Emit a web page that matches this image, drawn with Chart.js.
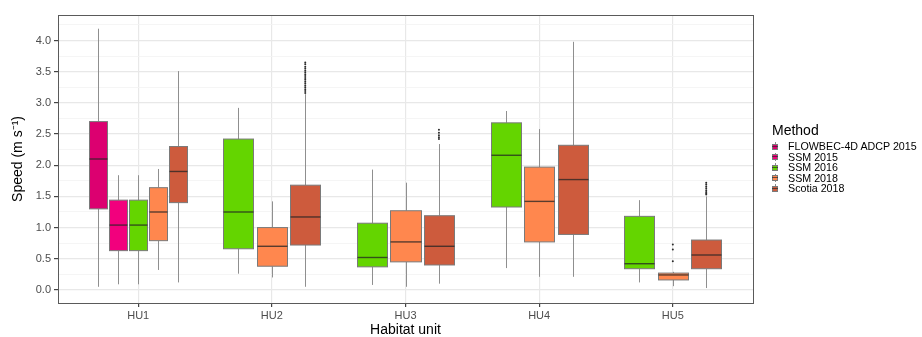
<!DOCTYPE html>
<html>
<head>
<meta charset="utf-8">
<script src="https://cdn.jsdelivr.net/npm/chart.js@4"></script>
<style>
  body { margin: 0; background: #fff; font-family: "Liberation Sans", Arial, sans-serif; }
  #wrap { position: relative; width: 922px; height: 337px; }
  #legend { position: absolute; left: 772px; top: 122px; color: #000; }
  #legend .title { font-size: 14px; line-height: 17px; margin-bottom: 2px; }
  #legend .row { position: relative; font-size: 10.7px; line-height: 10.5px; height: 10.5px; padding-left: 16px; white-space: nowrap; }
  #legend .key { position: absolute; left: 0; top: 0; width: 6px; height: 10px; }
  #legend .wh { position: absolute; left: 2.5px; top: 1px; width: 1px; height: 8px; background: #8c8c8c; }
  #legend .bx { position: absolute; left: 0; top: 2.5px; width: 4px; height: 4px; border: 1px solid #7a7a7a; }
  #legend .md { position: absolute; left: 0; top: 4.5px; width: 6px; height: 1px; background: rgba(40,40,40,0.7); }
</style>
</head>
<body>
<div id="wrap">
  <canvas id="chart" width="922" height="337"></canvas>
  <div id="legend"></div>
</div>
<script>
const categories = ['HU1', 'HU2', 'HU3', 'HU4', 'HU5'];
const methods    = ['FLOWBEC-4D ADCP 2015', 'SSM 2015', 'SSM 2016', 'SSM 2018', 'Scotia 2018'];
const colors     = ['#DC0070', '#F2007D', '#64D500', '#FF874E', '#CD5B3D'];

// [lower whisker, Q1, median, Q3, upper whisker] per habitat unit, null = no data
const flowbec2015 = [[0.05, 1.30, 2.10, 2.70, 4.19], null, null, null, null];
const ssm2015     = [[0.09, 0.63, 1.04, 1.44, 1.84], null, null, null, null];
const ssm2016     = [[0.09, 0.63, 1.04, 1.44, 1.84], [0.26, 0.66, 1.25, 2.42, 2.92], [0.08, 0.37, 0.52, 1.07, 1.93], [0.35, 1.33, 2.16, 2.68, 2.87], [0.12, 0.34, 0.42, 1.18, 1.44]];
const ssm2018     = [[0.32, 0.79, 1.25, 1.64, 1.94], [0.20, 0.38, 0.70, 1.00, 1.42], [0.05, 0.45, 0.77, 1.27, 1.72], [0.21, 0.77, 1.42, 1.97, 2.58], [0.06, 0.16, 0.24, 0.27, 0.29]];
const scotia2018  = [[0.12, 1.40, 1.90, 2.30, 3.51], [0.05, 0.72, 1.17, 1.68, 3.14], [0.10, 0.40, 0.70, 1.19, 2.34], [0.21, 0.89, 1.77, 2.32, 3.98], [0.03, 0.34, 0.56, 0.80, 1.50]];

// outliers per habitat unit
const ssm2018Outliers    = [[], [], [], [], [0.46, 0.65, 0.73]];
const scotia2018Outliers = [[], [3.16, 3.19, 3.22, 3.25, 3.28, 3.31, 3.34, 3.37, 3.40, 3.43, 3.46, 3.49, 3.52, 3.55, 3.58, 3.62, 3.65],
                            [2.42, 2.45, 2.48, 2.52, 2.57], [], [1.53, 1.55, 1.57, 1.60, 1.63, 1.66, 1.69, 1.72]];

const yTicks = [0, 0.5, 1.0, 1.5, 2.0, 2.5, 3.0, 3.5, 4.0];

const boxStats = [flowbec2015, ssm2015, ssm2016, ssm2018, scotia2018];
const outliers = [[[], [], [], [], []], [[], [], [], [], []], [[], [], [], [], []], ssm2018Outliers, scotia2018Outliers];

const dodgeWidth = 0.75;

function boxSlot(mi, ci) {
    const present = boxStats.map((s, i) => i).filter(i => boxStats[i][ci]);
    const slot = dodgeWidth / present.length;
    const k = present.indexOf(mi);
    return { cx: ci + 1 - dodgeWidth / 2 + slot * (k + 0.5), half: slot * 0.9 / 2 };
}

const boxPlugin = {
    id: 'boxes',
    beforeDatasetsDraw(chart) {
        const { ctx, scales: { x, y } } = chart;
        ctx.save();
        boxStats.forEach((stats, mi) => {
            stats.forEach((s, ci) => {
                if (!s) return;
                const { cx, half } = boxSlot(mi, ci);
                const xl = Math.round(x.getPixelForValue(cx - half)) + 0.5;
                const xr = Math.round(x.getPixelForValue(cx + half)) + 0.5;
                const xc = Math.round(x.getPixelForValue(cx)) + 0.5;
                const [lo, q1, med, q3, hi] = s.map(v => y.getPixelForValue(v));
                // whiskers
                ctx.strokeStyle = '#8f8f8f';
                ctx.lineWidth = 1;
                ctx.beginPath();
                ctx.moveTo(xc, hi); ctx.lineTo(xc, q3);
                ctx.moveTo(xc, q1); ctx.lineTo(xc, lo);
                ctx.stroke();
                // box
                ctx.fillStyle = colors[mi];
                ctx.fillRect(xl, q3, xr - xl, q1 - q3);
                ctx.strokeStyle = '#7a7a7a';
                ctx.strokeRect(xl, q3, xr - xl, q1 - q3);
                // median
                ctx.strokeStyle = 'rgba(35,35,35,0.75)';
                ctx.lineWidth = 1.4;
                ctx.beginPath();
                ctx.moveTo(xl, med); ctx.lineTo(xr, med);
                ctx.stroke();
                ctx.lineWidth = 1;
            });
        });
        ctx.restore();
    },
    afterDraw(chart) {
        const { ctx, chartArea: a } = chart;
        ctx.save();
        ctx.strokeStyle = '#5a5a5a';
        ctx.lineWidth = 1;
        ctx.strokeRect(Math.round(a.left) + 0.5, Math.round(a.top) + 0.5, Math.round(a.right - a.left), Math.round(a.bottom - a.top));
        ctx.restore();
    }
};

const isMajor = v => yTicks.some(t => Math.abs(t - v) < 1e-6);

const datasets = methods.map((m, mi) => ({
    label: m,
    data: outliers[mi].flatMap((vals, ci) => vals.map(v => ({ x: boxSlot(mi, ci).cx, y: v }))),
    pointRadius: 1,
    pointBackgroundColor: '#2b2b2b',
    pointBorderWidth: 0,
    showLine: false
}));

new Chart(document.getElementById('chart').getContext('2d'), {
    type: 'scatter',
    data: { datasets },
    options: {
        responsive: false,
        animation: false,
        layout: { padding: { left: 10, top: 15, right: 169, bottom: 0 } },
        plugins: { legend: { display: false }, tooltip: { enabled: false } },
        scales: {
            x: {
                type: 'linear', min: 0.4, max: 5.6,
                afterBuildTicks: s => { s.ticks = categories.map((c, i) => ({ value: i + 1 })); },
                afterFit: s => { s.height = 34; },
                grid: { color: '#e8e8e8', lineWidth: 1.2, tickLength: 4, tickColor: '#444' },
                border: { display: false },
                ticks: { color: '#4d4d4d', font: { family: 'Liberation Sans', size: 11 }, padding: 2, maxRotation: 0,
                         callback: v => categories[Math.round(v) - 1] },
                title: { display: true, text: 'Habitat unit', color: '#000', font: { family: 'Liberation Sans', size: 14 }, padding: { top: 0, bottom: -2 } }
            },
            y: {
                type: 'linear', min: -0.21, max: 4.41,
                afterBuildTicks: s => {
                    const step = yTicks[1] - yTicks[0];
                    const all = yTicks.flatMap(t => [t, t + step / 2]);
                    s.ticks = all.map(v => ({ value: v }));
                },
                afterFit: s => { s.width = 48; },
                grid: {
                    color: c => isMajor(c.tick.value) ? '#e8e8e8' : '#f3f3f3',
                    lineWidth: c => isMajor(c.tick.value) ? 1.2 : 0.8,
                    tickLength: 4,
                    tickColor: c => isMajor(c.tick.value) ? '#444' : 'rgba(0,0,0,0)'
                },
                border: { display: false },
                ticks: { color: '#4d4d4d', font: { family: 'Liberation Sans', size: 11 }, padding: 3,
                         callback: v => isMajor(v) ? v.toFixed(1) : '' },
                title: { display: true, text: 'Speed (m s\u207B\u00B9)', color: '#000', font: { family: 'Liberation Sans', size: 14 }, padding: { top: 0, bottom: 2 } }
            }
        }
    },
    plugins: [boxPlugin]
});

// legend
const legend = document.getElementById('legend');
legend.innerHTML = '<div class="title">Method</div>' + methods.map((m, i) =>
    `<div class="row"><span class="key"><span class="wh"></span><span class="bx" style="background:${colors[i]}"></span><span class="md"></span></span>${m}</div>`
).join('');
</script>
</body>
</html>
